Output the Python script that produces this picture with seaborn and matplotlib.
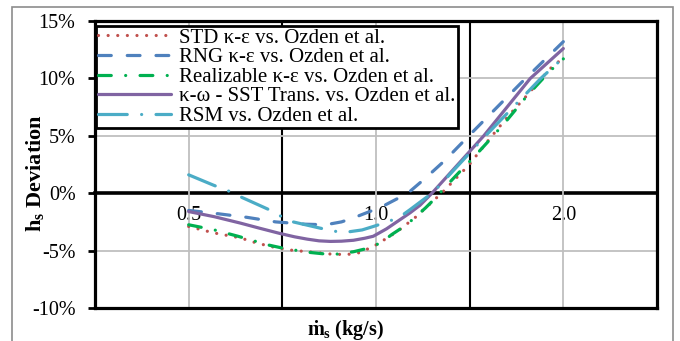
import numpy as np
import pandas as pd
import matplotlib
matplotlib.use("Agg")
import matplotlib.pyplot as plt
import seaborn as sns
from matplotlib.patches import Rectangle
from matplotlib.ticker import FixedLocator, NullFormatter, NullLocator

# Deviation of h_s (%) against mass flow rate (kg/s) for each turbulence model
std_x = [0.5, 0.548, 0.606, 0.644, 0.685, 0.728, 0.793, 0.845, 0.896, 0.937, 0.99,
         1.06, 1.09, 1.16, 1.28, 1.41, 1.51, 1.63, 1.75, 1.9, 2.0]
std_y = [-2.9, -3.45, -3.9, -4.35, -4.7, -4.95, -5.15, -5.3, -5.35, -5.2, -4.65,
         -3.65, -3.2, -2.05, 0.1, 2.45, 4.5, 6.7, 8.55, 10.8, 11.8]

rng_x = [0.5, 0.55, 0.62, 0.69, 0.77, 0.83, 0.88, 0.92, 1.02, 1.125, 1.2, 1.29, 1.41,
         1.71, 2.0]
rng_y = [-1.5, -1.75, -2.1, -2.5, -2.7, -2.75, -2.5, -2.15, -1.2, 0.0, 1.3, 2.85, 5.0,
         9.6, 13.2]

real_x = [0.5, 0.55, 0.6, 0.67, 0.71, 0.78, 0.83, 0.87, 0.92, 0.97, 1.02, 1.06, 1.12,
          1.2, 1.25, 1.29, 1.37, 1.44, 1.52, 1.62, 1.75, 1.9, 2.0]
real_y = [-2.75, -3.2, -3.75, -4.5, -4.8, -5.15, -5.3, -5.3, -5.1, -4.8, -4.3, -3.6, -2.75,
          -1.3, -0.35, 0.5, 2.0, 3.2, 4.6, 6.3, 8.5, 10.6, 11.7]

sst_x = [0.5, 0.55, 0.605, 0.65, 0.70, 0.74, 0.775, 0.81, 0.845, 0.88, 0.92, 0.96,
         0.99, 1.04, 1.09, 1.135, 1.177, 1.23, 1.49, 1.77, 2.0]
sst_y = [-1.6, -2.05, -2.6, -3.05, -3.5, -3.8, -4.0, -4.15, -4.2, -4.18, -4.1, -3.92,
         -3.75, -3.1, -2.35, -1.7, -1.05, 0.0, 5.0, 10.0, 12.6]

rsm_x = [0.5, 0.548, 0.579, 0.605, 0.671, 0.70, 0.736, 0.814, 0.866, 0.908, 0.95,
         0.99, 1.05, 1.1, 1.133, 1.237, 1.5, 1.84, 2.0]
rsm_y = [1.6, 0.7, 0.2, -0.3, -1.4, -1.95, -2.5, -3.05, -3.35, -3.35, -3.2,
         -2.9, -2.45, -1.95, -1.45, 0.1, 5.0, 10.0, 11.8]

labels = ["STD κ-ε vs. Ozden et al.",
          "RNG κ-ε vs. Ozden et al.",
          "Realizable κ-ε vs. Ozden et al.",
          "κ-ω - SST Trans. vs. Ozden et al.",
          "RSM vs. Ozden et al."]

x_label_ticks = [0.5, 1.0, 2.0]
x_label_text = ["0.5", "1.0", "2.0"]
x_major_grid = [0.5 * np.sqrt(2), np.sqrt(2)]
y_ticks = [-10, -5, 0, 5, 10, 15]
y_tick_text = ["-10%", "-5%", "0%", "5%", "10%", "15%"]

sns.set_theme(style="white")
plt.rcParams["font.family"] = ["Liberation Serif", "DejaVu Serif"]
plt.rcParams["mathtext.fontset"] = "custom"
plt.rcParams["mathtext.rm"] = "Liberation Serif"
plt.rcParams["mathtext.bf"] = "Liberation Serif:bold"
plt.rcParams["mathtext.it"] = "Liberation Serif:italic"
plt.rcParams["axes.unicode_minus"] = False

W, H = 680, 341
fig = plt.figure(figsize=(W / 100, H / 100), dpi=100)
fig.patch.set_facecolor("white")
ax = fig.add_axes([95 / W, 33 / H, 562 / W, 287 / H])
ax.set_facecolor("white")

colors = ["#C0504D", "#4F81BD", "#00B050", "#8064A2", "#4BACC6"]
styles = [(0, (0.01, 3.0)),
          (0, (4.0, 5.0)),
          (0, (4.0, 4.5, 0.01, 4.5)),
          "-",
          (0, (9.0, 4.5, 0.01, 4.5))]
xs_all = [std_x, rng_x, real_x, sst_x, rsm_x]
ys_all = [std_y, rng_y, real_y, sst_y, rsm_y]

for xs, ys, lab, col, ls in zip(xs_all, ys_all, labels, colors, styles):
    df = pd.DataFrame({"m": xs, "dev": ys})
    sns.lineplot(data=df, x="m", y="dev", ax=ax, color=col, lw=2.3,
                 linestyle=ls, label=lab, estimator=None, sort=False,
                 dash_capstyle="round", solid_capstyle="round",
                 solid_joinstyle="round", dash_joinstyle="round", zorder=4)

ax.set_xscale("log", base=2)
ax.set_xlim(0.5 / np.sqrt(2), 2 * np.sqrt(2))
ax.set_ylim(-10, 15)

# vertical grid: black at the major positions, grey under the labelled values
ax.xaxis.set_major_locator(FixedLocator(x_major_grid))
ax.xaxis.set_minor_locator(FixedLocator(x_label_ticks))
ax.xaxis.set_major_formatter(NullFormatter())
ax.xaxis.set_minor_formatter(NullFormatter())
ax.tick_params(axis="x", which="both", length=0, labelbottom=False)
ax.grid(axis="x", which="major", color="black", lw=1.5, zorder=1)
ax.grid(axis="x", which="minor", color="#BFBFBF", lw=1.3, zorder=1)

ax.set_yticks(y_ticks, labels=y_tick_text)
ax.grid(axis="y", which="major", color="#BFBFBF", lw=1.3, zorder=1)
ax.tick_params(axis="y", which="major", direction="out", left=True, length=5,
               width=2, color="black", labelsize=14.5, pad=9, labelcolor="black")
ax.set_axisbelow(True)
# the zero level is drawn by the category axis instead of a grid line
for val, gl in zip(y_ticks, ax.yaxis.get_gridlines()):
    if val == 0:
        gl.set_visible(False)

for sp in ax.spines.values():
    sp.set_color("black")
    sp.set_linewidth(2.3)

# category labels sit on the zero line
sec = ax.secondary_xaxis(0.4)
sec.set_xticks(x_label_ticks, labels=x_label_text)
sec.xaxis.set_minor_locator(NullLocator())
sec.xaxis.set_minor_formatter(NullFormatter())
sec.tick_params(which="both", length=0, labelsize=14.5, pad=9, labelcolor="black")
sec.spines["top"].set_visible(False)
sec.spines["bottom"].set_color("black")
sec.spines["bottom"].set_linewidth(2.6)

ax.set_xlabel("ṁ$_\\mathbf{s}$ (kg/s)", fontsize=14.5, fontweight="bold",
              color="black")
ax.xaxis.set_label_coords(0.445, -0.035)
ax.set_ylabel("h$_\\mathbf{s}$ Deviation", fontsize=16, fontweight="bold",
              color="black")
ax.yaxis.set_label_coords(-0.087, 0.47)

leg = ax.legend(loc="upper left", bbox_to_anchor=(96 / W, 1 - 26 / H),
                bbox_transform=fig.transFigure, frameon=True, fancybox=False,
                edgecolor="black", framealpha=1, fontsize=15,
                handlelength=3.5, handletextpad=0.4, labelspacing=0.0,
                borderpad=0.1, borderaxespad=0)
leg.get_frame().set_linewidth(2.0)
for t in leg.get_texts():
    t.set_color("black")

# outer chart border
fig.add_artist(Rectangle((12 / W, -0.1), 661 / W, 1 - 7 / H + 0.1,
                         transform=fig.transFigure, fill=False,
                         edgecolor="#8C8C8C", lw=1.2, clip_on=False))

fig.savefig("out.png", dpi=100, facecolor="white")
